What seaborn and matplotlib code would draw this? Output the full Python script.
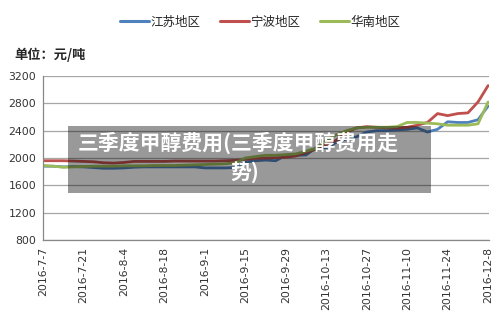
import pandas as pd
import matplotlib
matplotlib.use("Agg")
import matplotlib.pyplot as plt
from matplotlib.patches import Rectangle
import seaborn as sns

# 데이터 (그림에서 읽은 값, 元/吨)
start_date = "2016-07-07"
end_date = "2016-12-08"
n_points = 45
regions = ["江苏地区", "宁波地区", "华南地区"]
jiangsu = [1880, 1880, 1870, 1875, 1870, 1860, 1850, 1850, 1855, 1865,
           1870, 1870, 1870, 1870, 1870, 1870, 1855, 1855, 1855, 1860,
           1940, 1960, 1970, 1960, 2040, 2040, 2045, 2150, 2150, 2230,
           2280, 2310, 2380, 2400, 2400, 2410, 2420, 2440, 2380, 2420,
           2530, 2520, 2520, 2560, 2760]
ningbo = [1960, 1960, 1960, 1955, 1950, 1945, 1930, 1925, 1935, 1950,
          1950, 1950, 1950, 1955, 1955, 1955, 1955, 1955, 1960, 1965,
          1980, 1995, 2000, 2005, 2010, 2030, 2080, 2130, 2200, 2260,
          2380, 2440, 2460, 2450, 2440, 2440, 2450, 2480, 2520, 2650,
          2620, 2650, 2660, 2820, 3060]
huanan = [1890, 1880, 1865, 1870, 1875, 1880, 1880, 1880, 1885, 1885,
          1885, 1890, 1890, 1890, 1895, 1900, 1905, 1910, 1915, 1930,
          2000, 2020, 2040, 2040, 2050, 2060, 2100, 2140, 2260, 2340,
          2400, 2440, 2450, 2450, 2450, 2460, 2520, 2520, 2510, 2500,
          2480, 2480, 2480, 2500, 2820]
colors = ["#4F81BD", "#C0504D", "#9BBB59"]
tick_dates = pd.date_range(start_date, end_date, freq="14D")
y_ticks = list(range(800, 3201, 400))

dates = pd.date_range(start_date, end_date, periods=n_points)
df = pd.DataFrame({"date": dates, "江苏地区": jiangsu, "宁波地区": ningbo, "华南地区": huanan})
df_long = df.melt(id_vars="date", var_name="region", value_name="price")

sns.set_style("white")
plt.rcParams['font.family'] = ['Noto Sans CJK SC', 'DejaVu Sans']

fig = plt.figure(figsize=(5, 3.2), dpi=100)
ax = fig.add_axes([0.086, 0.25, 0.892, 0.5125])

sns.lineplot(data=df_long, x="date", y="price", hue="region", hue_order=regions,
             palette=colors, linewidth=2, ax=ax, legend=False)

ax.set_ylim(800, 3200)
ax.set_yticks(y_ticks)
ax.set_xlim(pd.Timestamp(start_date), pd.Timestamp(end_date) + pd.Timedelta(days=0.3))
ax.set_xticks(tick_dates)
ax.set_xticklabels([f"{d.year}-{d.month}-{d.day}" for d in tick_dates], rotation=90,
                   family="DejaVu Sans", fontsize=7.8, color="#333333")
ax.set_yticklabels([str(v) for v in y_ticks], family="DejaVu Sans",
                   fontsize=7.8, color="#333333")
ax.set_xlabel("")
ax.set_ylabel("")
ax.yaxis.grid(True, color="#A6A6A6", lw=0.9)
ax.set_axisbelow(True)
for s in ["top", "right"]:
    ax.spines[s].set_visible(False)
for s in ["left", "bottom"]:
    ax.spines[s].set_color("#888888")
    ax.spines[s].set_linewidth(0.9)
ax.tick_params(axis="both", length=3, width=0.8, color="#888888", pad=2)

# 범례 (위쪽 가운데)
handles = [plt.Line2D([0], [0], color=c, lw=2.2) for c in colors]
fig.legend(handles, regions, loc="center", bbox_to_anchor=(0.52, 0.931), ncol=3,
           frameon=False, fontsize=9, handlelength=2.3, handletextpad=0.1,
           columnspacing=1.6, borderpad=0)

fig.text(0.028, 0.83, "单位：元/吨", fontsize=9.5, fontweight="bold", ha="left", va="center")

# 반투명 회색 박스 + 흰 글씨
fig.patches.append(Rectangle((0.136, 0.397), 0.726, 0.209, transform=fig.transFigure,
                             facecolor="black", alpha=0.4, edgecolor="none", zorder=5))
fig.text(0.476, 0.555, "三季度甲醇费用(三季度甲醇费用走", fontsize=15, fontweight="bold",
         color="white", ha="center", va="center", zorder=6)
fig.text(0.49, 0.462, "势)", fontsize=15, fontweight="bold",
         color="white", ha="center", va="center", zorder=6)

plt.savefig("out.png", dpi=100)
